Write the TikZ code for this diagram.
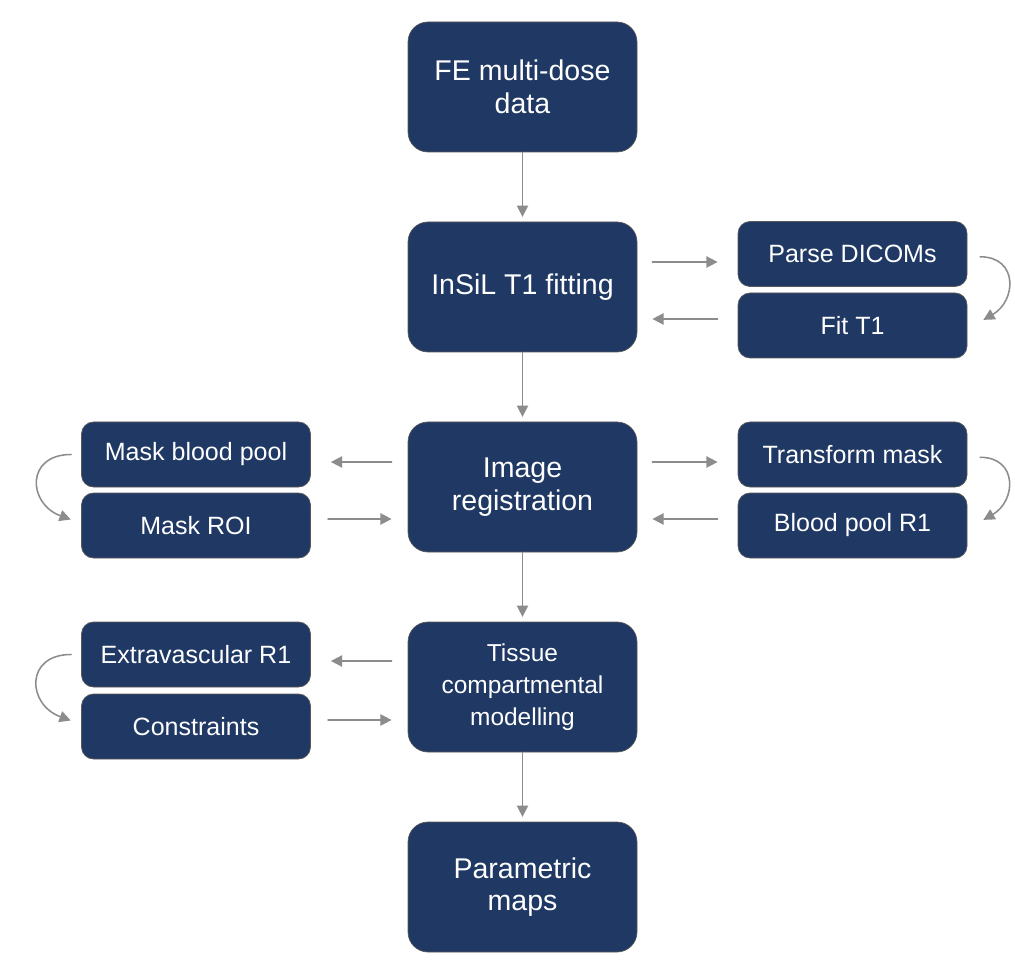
\documentclass[tikz,border=0pt]{standalone}
\usepackage{fontspec}
\setmainfont{Liberation Sans}
\usetikzlibrary{arrows.meta}
\definecolor{boxnavy}{rgb}{0.122,0.22,0.392}
\definecolor{edgegrey}{rgb}{0.35,0.35,0.35}
\definecolor{flowgrey}{rgb}{0.55,0.55,0.55}

\begin{document}
\begin{tikzpicture}[line cap=round,line join=round,>={Triangle[length=8pt,width=8pt]},x=1.0cm,y=1.0cm,
  bigbox/.style={draw=edgegrey,line width=0.5pt,fill=boxnavy,text=white,rounded corners=0.5cm,minimum width=5.725cm,minimum height=3.25cm,align=center,font=\fontsize{20.3}{23.3}\selectfont},
  smallbox/.style={draw=edgegrey,line width=0.5pt,fill=boxnavy,text=white,rounded corners=0.3cm,minimum width=5.725cm,minimum height=1.625cm,font=\fontsize{17.8}{21}\selectfont},
  flow/.style={->,draw=flowgrey,line width=1.1pt}]
\useasboundingbox (0,0) rectangle (25.375,23.975);
% main column
\node [bigbox] (data) at (13.0625,21.8) {FE multi-dose\\data};
\node [bigbox] (insil) at (13.0625,16.8) {InSiL T1 fitting};
\node [bigbox] (reg) at (13.0625,11.8) {Image\\registration};
\node [bigbox,font=\fontsize{17.4}{22.6}\selectfont] (tissue) at (13.0625,6.8) {Tissue\\compartmental\\modelling};
\node [bigbox] (maps) at (13.0625,1.8) {Parametric\\maps};
% side steps
\node [smallbox] (parse) at (21.3125,17.625) {Parse DICOMs};
\node [smallbox] (fit) at (21.3125,15.8375) {Fit T1};
\node [smallbox] (transform) at (21.3125,12.6125) {Transform mask};
\node [smallbox] (poolr) at (21.3125,10.8375) {Blood pool R1};
\node [smallbox] (maskpool) at (4.9,12.6125) {Mask blood pool};
\node [smallbox] (maskroi) at (4.9,10.8375) {Mask ROI};
\node [smallbox] (extra) at (4.9,7.6125) {Extravascular R1};
\node [smallbox] (constr) at (4.9,5.8125) {Constraints};
% down the column
\draw [flow,shorten >=0.12cm] (data) -- (insil);
\draw [flow,shorten >=0.12cm] (insil) -- (reg);
\draw [flow,shorten >=0.12cm] (reg) -- (tissue);
\draw [flow,shorten >=0.12cm] (tissue) -- (maps);
% out and back
\draw [flow,shorten <=0.375cm,shorten >=0.5cm] ([yshift=0.625cm]insil.east) -- ([yshift=0.625cm]insil.east -| parse.west);
\draw [flow,shorten <=0.5cm,shorten >=0.375cm] ([yshift=-0.8cm]insil.east -| fit.west) -- ([yshift=-0.8cm]insil.east);
\draw [flow,shorten <=0.375cm,shorten >=0.5cm] ([yshift=0.625cm]reg.east) -- ([yshift=0.625cm]reg.east -| transform.west);
\draw [flow,shorten <=0.5cm,shorten >=0.375cm] ([yshift=-0.8cm]reg.east -| poolr.west) -- ([yshift=-0.8cm]reg.east);
\draw [flow,shorten <=0.4cm,shorten >=0.5cm] ([yshift=0.625cm]reg.west) -- ([yshift=0.625cm]reg.west -| maskpool.east);
\draw [flow,shorten <=0.43cm,shorten >=0.4cm] ([yshift=-0.8cm]reg.west -| maskroi.east) -- ([yshift=-0.8cm]reg.west);
\draw [flow,shorten <=0.4cm,shorten >=0.5cm] ([yshift=0.65cm]tissue.west) -- ([yshift=0.65cm]tissue.west -| extra.east);
\draw [flow,shorten <=0.43cm,shorten >=0.4cm] ([yshift=-0.825cm]tissue.west -| constr.east) -- ([yshift=-0.825cm]tissue.west);
% loops between steps
\draw [flow] ([xshift=0.32cm,yshift=-0.07cm]parse.east) to [out=0,in=30,looseness=1.55] ([xshift=0.4cm,yshift=0.14cm]fit.east);
\draw [flow] ([xshift=0.32cm,yshift=-0.07cm]transform.east) to [out=0,in=30,looseness=1.55] ([xshift=0.4cm,yshift=0.14cm]poolr.east);
\draw [flow] ([xshift=-0.25cm]maskpool.west) to [out=180,in=160,looseness=1.8] ([xshift=-0.26cm,yshift=0.15cm]maskroi.west);
\draw [flow] ([xshift=-0.25cm]extra.west) to [out=180,in=160,looseness=1.8] ([xshift=-0.26cm,yshift=0.15cm]constr.west);
\end{tikzpicture}
\end{document}
